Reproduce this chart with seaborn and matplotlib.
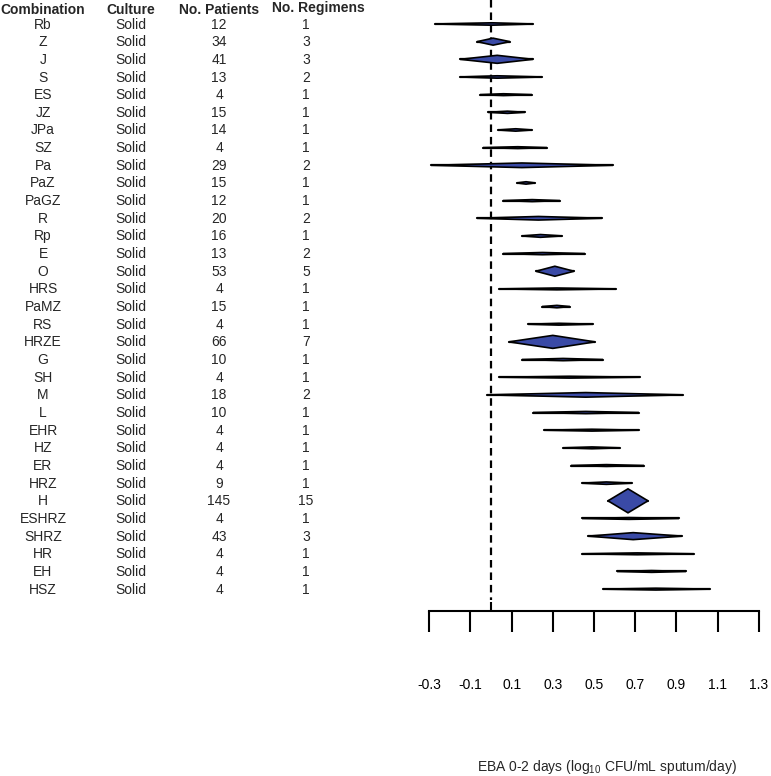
import numpy as np
import pandas as pd
import matplotlib
matplotlib.use("Agg")
import matplotlib.pyplot as plt
import seaborn as sns
from matplotlib.transforms import blended_transform_factory

# ---------------- data ----------------
combination = ["Rb", "Z", "J", "S", "ES", "JZ", "JPa", "SZ", "Pa", "PaZ", "PaGZ",
               "R", "Rp", "E", "O", "HRS", "PaMZ", "RS", "HRZE", "G", "SH", "M",
               "L", "EHR", "HZ", "ER", "HRZ", "H", "ESHRZ", "SHRZ", "HR", "EH", "HSZ"]
culture = ["Solid"] * len(combination)
patients = [12, 34, 41, 13, 4, 15, 14, 4, 29, 15, 12, 20, 16, 13, 53, 4, 15, 4, 66,
            10, 4, 18, 10, 4, 4, 4, 9, 145, 4, 43, 4, 4, 4]
regimens = [1, 3, 3, 2, 1, 1, 1, 1, 2, 1, 1, 2, 1, 2, 5, 1, 1, 1, 7, 1, 1, 2, 1, 1,
            1, 1, 1, 15, 1, 3, 1, 1, 1]
estimate = [0.005, 0.01, 0.03, 0.03, 0.06, 0.08, 0.12, 0.13, 0.15, 0.17, 0.20,
            0.23, 0.24, 0.25, 0.31, 0.32, 0.32, 0.33, 0.30, 0.35, 0.38, 0.46,
            0.46, 0.49, 0.49, 0.56, 0.56, 0.665, 0.67, 0.69, 0.71, 0.78, 0.80]
ci_low = [-0.272, -0.068, -0.150, -0.150, -0.053, -0.015, 0.034, -0.039, -0.291,
          0.126, 0.058, -0.068, 0.150, 0.058, 0.218, 0.039, 0.248, 0.180, 0.087,
          0.150, 0.039, -0.019, 0.204, 0.257, 0.350, 0.388, 0.442, 0.568, 0.442,
          0.471, 0.442, 0.612, 0.544]
ci_high = [0.204, 0.092, 0.204, 0.248, 0.199, 0.165, 0.199, 0.272, 0.592, 0.214,
           0.335, 0.539, 0.345, 0.456, 0.403, 0.607, 0.383, 0.495, 0.505, 0.544,
           0.723, 0.932, 0.718, 0.718, 0.626, 0.743, 0.684, 0.762, 0.913, 0.927,
           0.985, 0.947, 1.063]
# relative weight (drives thickness of the shape)
weight = [1.2, 3.5, 4, 1.2, 0.9, 1.1, 1.2, 0.9, 2.3, 1.2, 1.0, 1.8, 1.4, 1.1, 5,
          0.9, 1.2, 0.9, 6.5, 1.1, 0.9, 2.3, 1.1, 0.9, 0.9, 0.9, 1.2, 12, 0.9,
          3.5, 0.9, 0.9, 0.9]
headers = ["Combination", "Culture", "No. Patients", "No. Regimens"]
tick_values = [-0.3, -0.1, 0.1, 0.3, 0.5, 0.7, 0.9, 1.1, 1.3]
tick_labels = ["-0.3", "-0.1", "0.1", "0.3", "0.5", "0.7", "0.9", "1.1", "1.3"]
xlabel = "EBA 0-2 days (log$_{10}$ CFU/mL sputum/day)"

df = pd.DataFrame({"combination": combination, "culture": culture,
                   "patients": patients, "regimens": regimens,
                   "est": estimate, "lo": ci_low, "hi": ci_high, "w": weight})
df["row"] = np.arange(len(df))

long = pd.concat([
    pd.DataFrame({"value": df["lo"], "row": df["row"], "combination": df["combination"]}),
    pd.DataFrame({"value": df["hi"], "row": df["row"], "combination": df["combination"]}),
])

# ---------------- style ----------------
sns.set_theme(style="white")
plt.rcParams["font.family"] = ["Liberation Sans", "DejaVu Sans"]
plt.rcParams["mathtext.default"] = "regular"

W, H = 771, 776
fig = plt.figure(figsize=(W / 100, H / 100), dpi=100)
ax = fig.add_axes([0, 0, 1, 1])

px_per_unit = 206.0     # x pixels per value unit
x0_px = 491.0           # pixel of value 0
row0_px = 24.0
row_px = 17.66
ax.set_xlim(-x0_px / px_per_unit, (W - x0_px) / px_per_unit)
ax.set_ylim((H - row0_px) / row_px, -row0_px / row_px)

blue = "#3a4aa6"

# CI lines
sns.lineplot(data=long, x="value", y="row", units="combination", estimator=None,
             sort=False, color="black", lw=1.6, ax=ax, legend=False)

# shapes
for _, r in df.iterrows():
    h = r["w"] / row_px
    xs = [r["lo"], r["est"], r["hi"], r["est"]]
    ys = [r["row"], r["row"] - h, r["row"], r["row"] + h]
    ax.fill(xs, ys, facecolor=blue, edgecolor="black", lw=1.2, zorder=3)

# reference line at 0
axis_row = (611 - row0_px) / row_px
ax.vlines(0, -row0_px / row_px, (600 - row0_px) / row_px, colors="black",
          linestyles=(0, (3.4, 2.2)), lw=1.6, zorder=1)
ax.vlines(0, (602 - row0_px) / row_px, axis_row, colors="black", lw=1.5)

# x axis
for s in ["top", "left", "right"]:
    ax.spines[s].set_visible(False)
ax.spines["bottom"].set_position(("data", axis_row))
ax.spines["bottom"].set_bounds(tick_values[0], tick_values[-1])
ax.spines["bottom"].set_color("black")
ax.spines["bottom"].set_linewidth(1.5)
ax.set_xticks(tick_values)
ax.set_xticklabels(tick_labels)
ax.set_yticks([])
ax.tick_params(axis="x", direction="out", length=15, width=1.5, pad=33,
               labelsize=10, colors="black", bottom=True)
ax.set_xlabel("")
ax.set_ylabel("")

fig.text(607 / W, 1 - 767 / H, xlabel, ha="center", va="center", fontsize=10)

# table
tr = blended_transform_factory(fig.transFigure, ax.transData)
col_x = [43 / W, 131 / W, 219 / W, 306 / W]
head_x = [43 / W, 131 / W, 219 / W, 318 / W]
head_y = [-0.78, -0.78, -0.78, -0.92]
for hx, hy, htxt in zip(head_x, head_y, headers):
    ax.text(hx, hy, htxt, transform=tr, ha="center", va="center",
            fontsize=10, fontweight="bold")
for _, r in df.iterrows():
    vals = [r["combination"], r["culture"], str(r["patients"]), str(r["regimens"])]
    for cx, v in zip(col_x, vals):
        ax.text(cx, r["row"] + 0.03, v, transform=tr, ha="center", va="center",
                fontsize=10)

fig.savefig("out.png", dpi=100)
